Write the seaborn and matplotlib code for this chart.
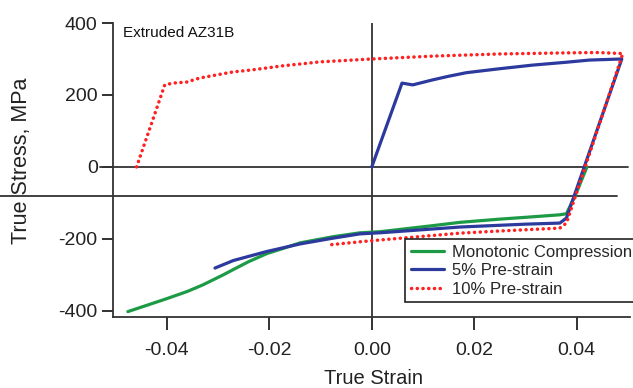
import numpy as np
import pandas as pd
import matplotlib
matplotlib.use("Agg")
import matplotlib.pyplot as plt
import seaborn as sns

# ---- data ----
mono_x = [0.0420, 0.0400, 0.0380, 0.0367, 0.0300, 0.0250, 0.0172, 0.0120, 0.0016,
          -0.0023, -0.0076, -0.0140, -0.0170, -0.0205, -0.0240, -0.0270, -0.0290,
          -0.0310, -0.0330, -0.0360, -0.0400, -0.0440, -0.0476]
mono_y = [0, -70, -130, -133, -140, -145, -154, -163, -180,
          -183, -194, -211, -225, -241, -263, -285, -300,
          -314, -328, -346, -366, -385, -402]

pre5_x = [0.0000, 0.0059, 0.0080, 0.0119, 0.0150, 0.0185, 0.0250, 0.0314, 0.0380, 0.0425, 0.0488,
          0.0380, 0.0367, 0.0300, 0.0172, 0.0016, -0.0023, -0.0076, -0.0140, -0.0205, -0.0270, -0.0306]
pre5_y = [0, 233, 228, 242, 252, 262, 273, 283, 291, 297, 300,
          -142, -156, -159, -167, -183, -186, -198, -214, -235, -260, -281]

pre10_x = [-0.0459, -0.0404, -0.0388, -0.0361, -0.0336, -0.0302, -0.0271, -0.0238, -0.0205,
           -0.0174, -0.0140, -0.0101, -0.0050, 0.0000, 0.0120, 0.0250, 0.0380, 0.0440, 0.0490,
           0.0380, 0.0367, 0.0250, 0.0172, 0.0016, -0.0023, -0.0086]
pre10_y = [0, 228, 233, 236, 247, 256, 264, 269, 275,
           281, 286, 292, 296, 300, 308, 314, 317, 318, 315,
           -156, -170, -178, -184, -203, -208, -217]

labels = ["Monotonic Compression", "5% Pre-strain", "10% Pre-strain"]
xticks = [-0.04, -0.02, 0.00, 0.02, 0.04]
xticklabels = ["-0.04", "-0.02", "0.00", "0.02", "0.04"]
yticks = [-400, -200, 0, 200, 400]
yticklabels = ["-400", "-200", "0", "200", "400"]

# ---- style ----
sns.set_style("ticks")
plt.rcParams["font.family"] = ["Liberation Sans", "DejaVu Sans"]
plt.rcParams["axes.unicode_minus"] = False

W, H = 633, 388
fig = plt.figure(figsize=(W / 100, H / 100), dpi=100)
L, R, B, T = 113, 630, 317, 23
ax = fig.add_axes([L / W, 1 - B / H, (R - L) / W, (B - T) / H])

green = "#1c9a46"
blue = "#2c3a9e"
red = "#ff2020"

df_m = pd.DataFrame({"x": mono_x, "y": mono_y})
df_5 = pd.DataFrame({"x": pre5_x, "y": pre5_y})
df_10 = pd.DataFrame({"x": pre10_x, "y": pre10_y})

sns.lineplot(data=df_m, x="x", y="y", sort=False, estimator=None, ax=ax,
             color=green, lw=2.3, label=labels[0], zorder=3, solid_joinstyle="round")
sns.lineplot(data=df_5, x="x", y="y", sort=False, estimator=None, ax=ax,
             color=blue, lw=2.3, label=labels[1], zorder=4, solid_joinstyle="round")
sns.lineplot(data=df_10, x="x", y="y", sort=False, estimator=None, ax=ax,
             color=red, lw=2.5, label=labels[2], zorder=5, linestyle=(0, (0.05, 1.6)),
             dash_capstyle="round")

ax.set_xlim(-0.0505, 0.0504)
ax.set_ylim(-417, 400)

# reference lines
ax.axhline(0, xmin=-13 / (R - L), xmax=(628 - L) / (R - L), color="#333333", lw=1.3,
           clip_on=False, zorder=2)
ax.axvline(0, color="#333333", lw=1.3, zorder=2)
ax.axhline(-80, xmin=-L / (R - L), xmax=(617 - L) / (R - L), color="#333333", lw=1.3,
           clip_on=False, zorder=2)

ax.set_xticks(xticks)
ax.set_xticklabels(xticklabels)
ax.set_yticks(yticks)
ax.set_yticklabels(yticklabels)
ax.tick_params(axis="both", labelsize=14, colors="#222222", width=1.3)
ax.tick_params(axis="y", length=8, pad=3)
ax.tick_params(axis="x", length=9, pad=9)

sns.despine(ax=ax)
for s in ["left", "bottom"]:
    ax.spines[s].set_color("#333333")
    ax.spines[s].set_linewidth(1.3)

ax.set_xlabel("")
ax.set_ylabel("")
fig.text(373 / W, 1 - 378 / H, "True Strain", ha="center", va="center", fontsize=14.5,
         color="#222222")
fig.text(22 / W, 1 - 161 / H, "True Stress, MPa", ha="center", va="center", fontsize=15.5,
         rotation=90, color="#222222")
ax.text(123 / W, 1 - 33 / H, "Extruded AZ31B", transform=fig.transFigure, ha="left",
        va="center", fontsize=11, color="#111111")

leg = ax.legend(loc="upper left", bbox_to_anchor=(405 / W, 1 - 239 / H),
                bbox_transform=fig.transFigure, fontsize=12, frameon=True, fancybox=False,
                handlelength=2.0, handletextpad=0.5, labelspacing=0.2, borderpad=0.35,
                borderaxespad=0)
leg.get_frame().set_edgecolor("#222222")
leg.get_frame().set_linewidth(1.2)
leg.get_frame().set_alpha(1)

fig.savefig("out.png", dpi=100)
